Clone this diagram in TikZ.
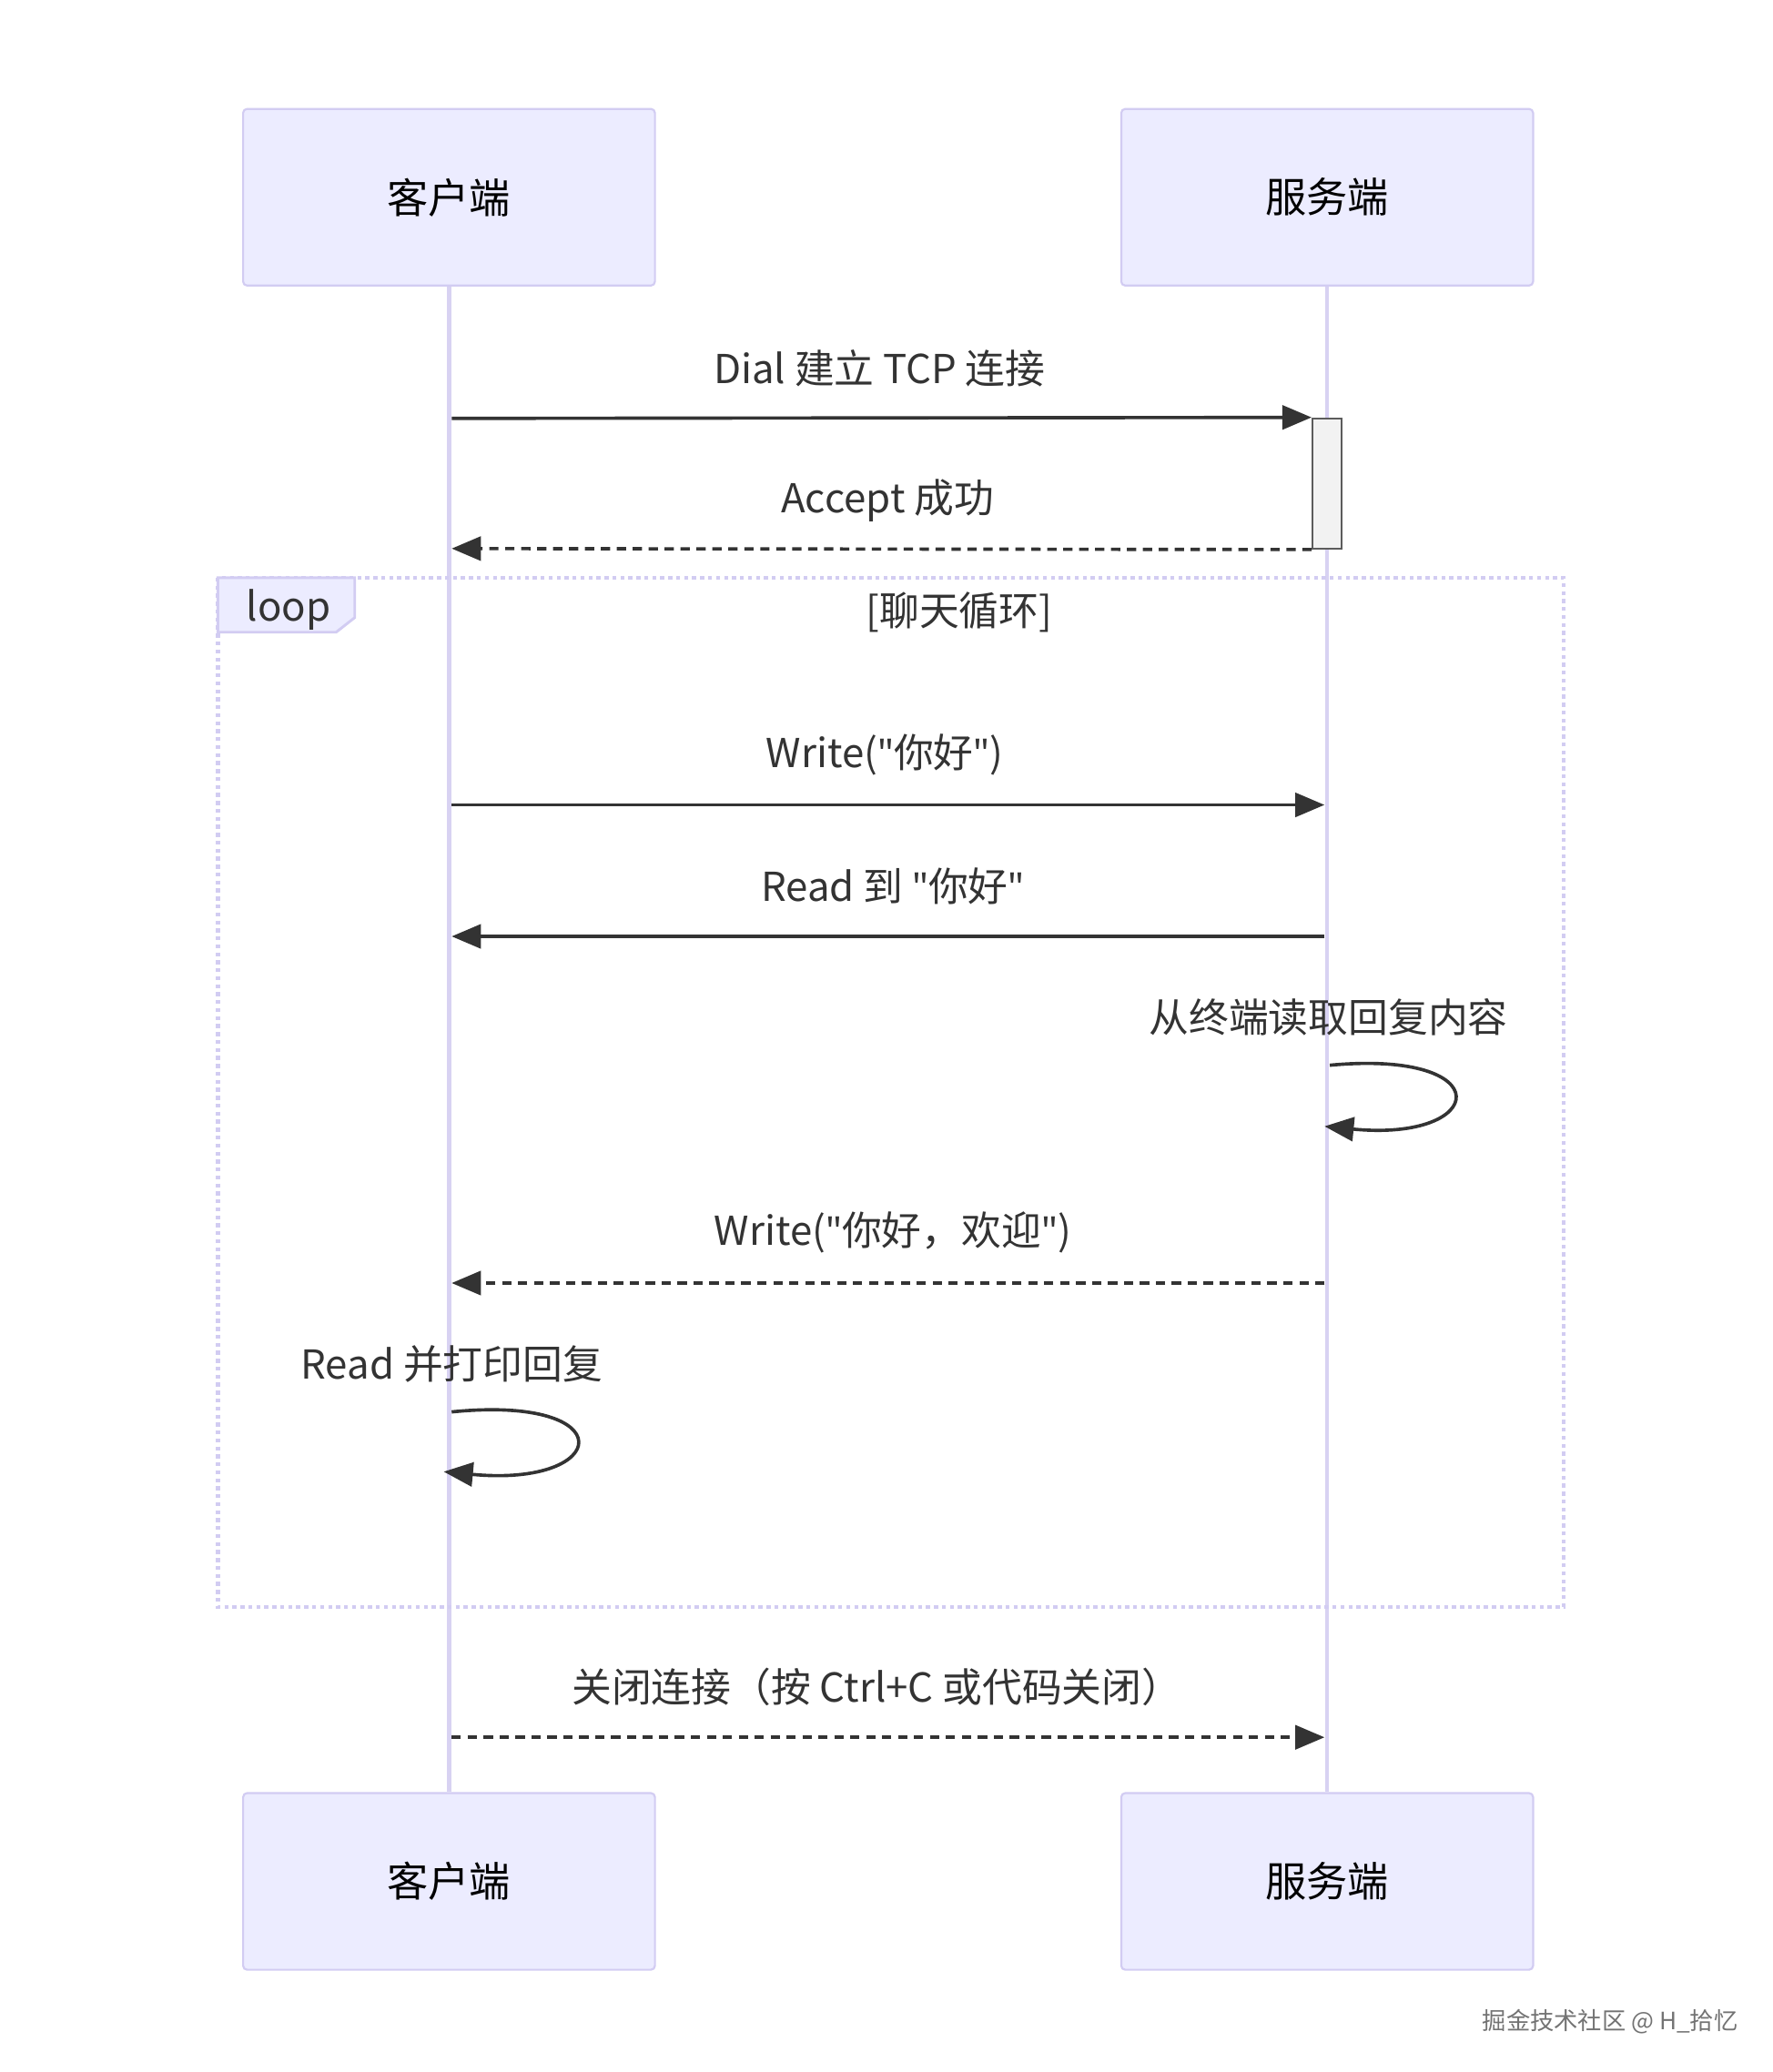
\documentclass[tikz,border=0pt]{standalone}
\usepackage{fontspec}
\setmainfont{Noto Sans CJK SC}
\newfontfamily\latin{Noto Sans}
\newcommand{\dq}{{\latin\char"22}}
\usetikzlibrary{arrows.meta}
\definecolor{boxfill}{HTML}{ECECFF}
\definecolor{boxline}{HTML}{D2CCF2}
\definecolor{life}{HTML}{D8D2F2}
\definecolor{ink}{HTML}{333333}
\begin{document}
\begin{tikzpicture}[x=1pt,y=-1pt,
  actor/.style={draw=boxline,line width=1.5pt,fill=boxfill,rounded corners=3pt,minimum width=310pt,minimum height=133pt,font=\fontsize{31}{34}\selectfont,text=black},
  lbl/.style={font=\fontsize{30}{34}\selectfont,text=ink},
  msg/.style={draw=ink,line width=2.5pt,-{Triangle[length=22pt,width=18pt]}},
  dmsg/.style={msg,dash pattern=on 7pt off 5pt}]
\useasboundingbox (0,0) rectangle (1334,1560);
\node[actor] (c1) at (338,148.5) {客户端};
\node[actor] (s1) at (999,148.5) {服务端};
\node[actor] (c2) at (338,1416.5) {客户端};
\node[actor] (s2) at (999,1416.5) {服务端};
\draw[life,line width=3pt] (c1.south) -- (c2.north);
\draw[life,line width=3pt] (s1.south) -- (s2.north);
% loop frame
\draw[boxline,line width=3pt,dash pattern=on 3pt off 3pt] (164,435) rectangle (1177,1210);
\draw[boxline,line width=2pt,fill=boxfill] (164,435) -- (267,435) -- (267,465) -- (253,476) -- (164,476) -- cycle;
\node[lbl,anchor=west] (lp) at (182,459) {loop};
\node[lbl] (lt) at (722,461) {[聊天循环]};
% activation
\node[draw=ink!80,fill=black!5,line width=1.5pt,minimum width=22pt,minimum height=98pt,inner sep=0pt] (act) at (999,364) {};
\coordinate (a1) at (340,315); \coordinate (a2) at (340,413);
\node[lbl] (t1) at (662,277) {Dial 建立 TCP 连接};
\draw[msg] (a1) -- (act.north west);
\node[lbl] (t2) at (668,377) {Accept 成功};
\draw[dmsg] (act.south west) -- (a2);
\coordinate (c3) at (340,606); \coordinate (s3) at (997,606);
\node[lbl] (t3) at (666,568) {Write(\dq 你好\dq)};
\draw[msg] (c3) -- (s3);
\coordinate (c4) at (340,705); \coordinate (s4) at (997,705);
\node[lbl] (t4) at (672,667) {Read 到 \dq 你好\dq};
\draw[msg] (s4) -- (c4);
\node[lbl] (t5) at (1000,766) {从终端读取回复内容};
\coordinate (s5a) at (1001,802); \coordinate (s5b) at (997,848);
\draw[msg] (s5a) .. controls (1130,790) and (1120,860) .. (s5b);
\coordinate (c6) at (340,966); \coordinate (s6) at (997,966);
\node[lbl] (t6) at (672,928) {Write(\dq 你好，欢迎\dq)};
\draw[dmsg] (s6) -- (c6);
\node[lbl] (t7) at (340,1027) {Read 并打印回复};
\coordinate (c7a) at (340,1063); \coordinate (c7b) at (334,1108);
\draw[msg] (c7a) .. controls (470,1050) and (460,1120) .. (c7b);
\coordinate (c8) at (340,1308); \coordinate (s8) at (997,1308);
\node[lbl] (t8) at (660,1270) {关闭连接（按 Ctrl+C 或代码关闭）};
\draw[dmsg] (c8) -- (s8);
\node[font=\fontsize{18}{20}\selectfont,text=black!55] (wm) at (1212,1522) {掘金技术社区 @ H\_拾忆};
\end{tikzpicture}
\end{document}
